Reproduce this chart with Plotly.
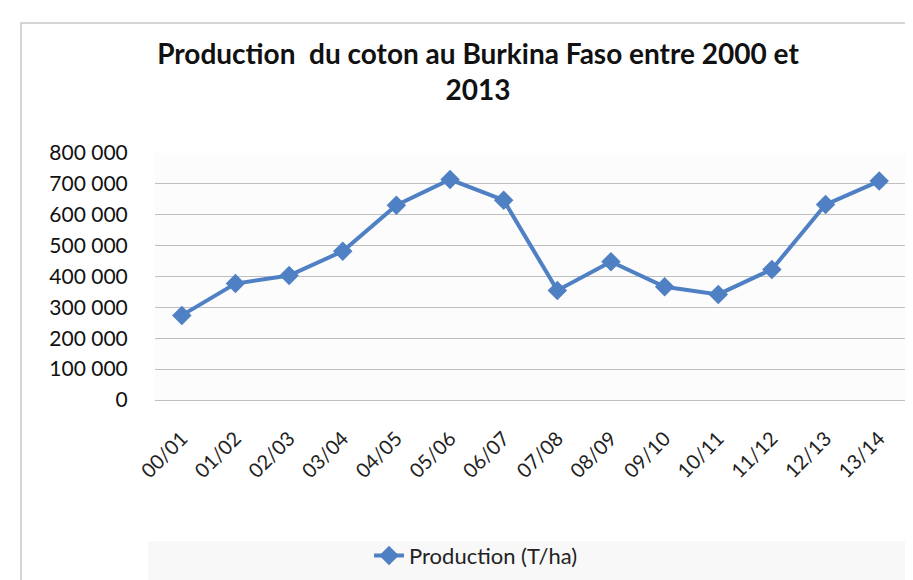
import plotly.graph_objects as go

seasons = ["00/01", "01/02", "02/03", "03/04", "04/05", "05/06", "06/07",
           "07/08", "08/09", "09/10", "10/11", "11/12", "12/13", "13/14"]
production = [274000, 377000, 403000, 482000, 631000, 714000, 647000,
              355000, 448000, 367000, 342000, 423000, 633000, 709000]
y_tickvals = [0, 100000, 200000, 300000, 400000, 500000, 600000, 700000, 800000]
y_ticktext = ["0", "100 000", "200 000", "300 000", "400 000", "500 000",
              "600 000", "700 000", "800 000"]

FONT = "Lato"
BLUE = "#5080C4"

fig = go.Figure()
fig.add_trace(go.Scatter(
    x=seasons, y=production, mode="lines+markers",
    name="Production (T/ha)",
    line=dict(color=BLUE, width=4),
    marker=dict(symbol="diamond", size=15, color=BLUE),
))

fig.update_layout(
    width=913, height=580,
    margin=dict(l=147, r=15, t=145, b=188),
    paper_bgcolor="white",
    plot_bgcolor="#fcfcfc",
    font=dict(family=FONT, size=21, color="#111111"),
    title=dict(
        text="Production&nbsp;&nbsp;du coton au Burkina Faso entre 2000 et<br>2013",
        x=470 / 913, xanchor="center", xref="container",
        y=1 - 56 / 580, yanchor="top", yref="container",
        font=dict(family=FONT, size=28, color="#111111", weight="bold"),
    ),
    showlegend=True,
    legend=dict(
        orientation="h", x=0.285, xanchor="left",
        y=-0.63, yanchor="middle",
        font=dict(family=FONT, size=22, color="#222222"),
        bgcolor="rgba(0,0,0,0)",
    ),
    xaxis=dict(
        type="category", range=[-0.5, 13.5],
        showgrid=False, showline=False, zeroline=False,
        tickangle=-45, ticks="outside", ticklen=18,
        tickcolor="rgba(0,0,0,0)",
        tickfont=dict(family=FONT, size=20, color="#222222"),
    ),
    yaxis=dict(
        range=[0, 800000], tickvals=y_tickvals, ticktext=y_ticktext,
        showgrid=True, gridcolor="#BFBFBF", gridwidth=1,
        zeroline=True, zerolinecolor="#BFBFBF", zerolinewidth=1,
        showline=False, ticks="outside", ticklen=22,
        tickcolor="rgba(0,0,0,0)",
        tickfont=dict(family=FONT, size=21, color="#111111"),
    ),
    shapes=[
        dict(type="rect", xref="paper", yref="paper",
             x0=(140 - 147) / 751, x1=(960 - 147) / 751,
             y0=(392 - 600) / 247, y1=(392 - 533) / 247,
             fillcolor="#F8F8F8", line=dict(width=0), layer="below"),
        dict(type="rect", xref="paper", yref="paper",
             x0=(13 - 147) / 751, x1=(960 - 147) / 751,
             y0=(392 - 600) / 247, y1=(392 - 15) / 247,
             fillcolor="rgba(0,0,0,0)", line=dict(color="#C8C8C8", width=1.5),
             layer="below"),
    ],
)

fig.write_html("out.html")
